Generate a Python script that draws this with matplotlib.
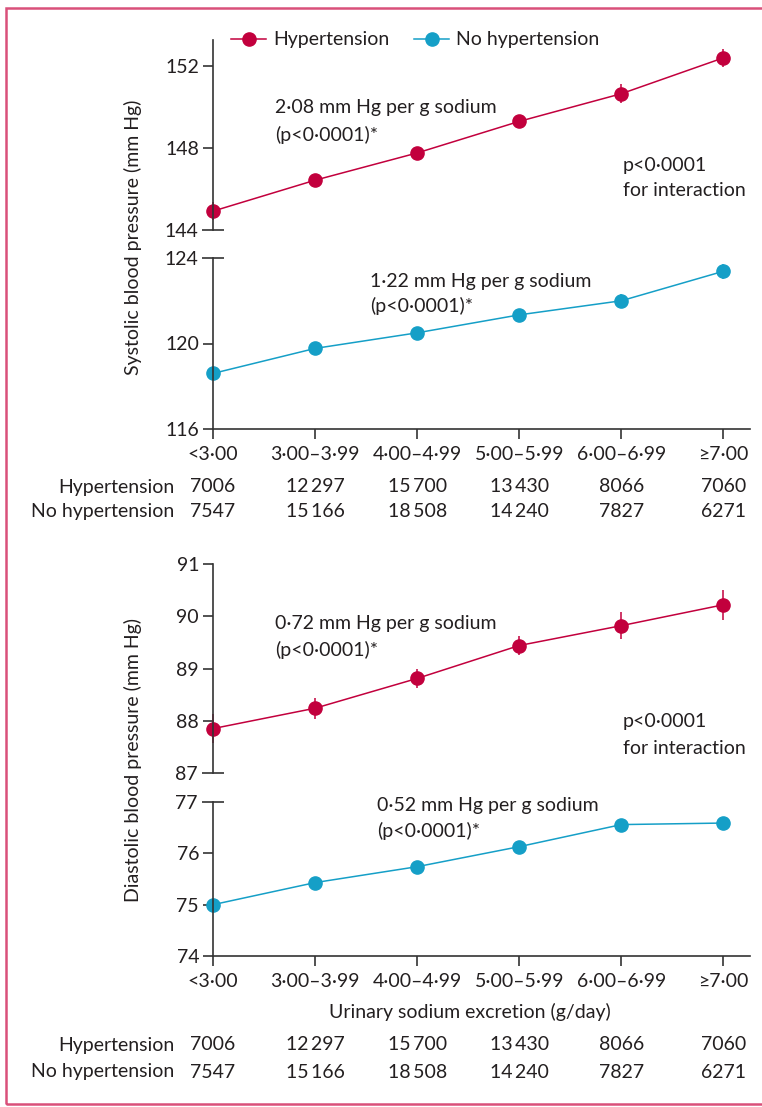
import matplotlib
matplotlib.use('Agg')
import matplotlib.pyplot as plt
from matplotlib.lines import Line2D
from matplotlib.patches import Rectangle
from matplotlib.transforms import blended_transform_factory

plt.rcParams['font.family'] = ['Lato', 'DejaVu Sans']

# categories of urinary sodium excretion (g/day)
categories = ['<3·00', '3·00–3·99', '4·00–4·99', '5·00–5·99', '6·00–6·99', '≥7·00']
n_hyp = [7006, 12297, 15700, 13430, 8066, 7060]
n_nohyp = [7547, 15166, 18508, 14240, 7827, 6271]

# systolic, mm Hg (mean and half-width of CI)
sbp_hyp = [144.92, 146.43, 147.76, 149.30, 150.65, 152.40]
sbp_hyp_err = [0.45, 0.30, 0.30, 0.30, 0.45, 0.45]
sbp_nohyp = [118.60, 119.77, 120.50, 121.34, 122.00, 123.38]
sbp_nohyp_err = [0.20, 0.20, 0.20, 0.20, 0.30, 0.35]

# diastolic, mm Hg
dbp_hyp = [87.85, 88.24, 88.81, 89.44, 89.82, 90.22]
dbp_hyp_err = [0.28, 0.20, 0.18, 0.19, 0.26, 0.29]
dbp_nohyp = [75.00, 75.43, 75.74, 76.13, 76.56, 76.59]
dbp_nohyp_err = [0.08, 0.08, 0.08, 0.08, 0.10, 0.10]

RED = '#c2003d'
BLUE = '#159fc7'
INK = '#231f20'
AX = '#333333'
FS = 14

W, H = 762, 1107
fig = plt.figure(figsize=(W / 100, H / 100), dpi=100)


def px_axes(left, top, right, bottom):
    return fig.add_axes([left / W, 1 - bottom / H, (right - left) / W, (bottom - top) / H])


def ftext(x, y, s, **kw):
    kw.setdefault('va', 'center')
    kw.setdefault('fontsize', FS)
    kw.setdefault('color', INK)
    return fig.text(x / W, 1 - y / H, s, **kw)


def style(ax, ylim, ticks, brk, upper):
    ax.set_xlim(0, 5.26)
    ax.set_ylim(*ylim)
    for s in ['top', 'right']:
        ax.spines[s].set_visible(False)
    for s in ['left', 'bottom']:
        ax.spines[s].set_color(AX)
        ax.spines[s].set_linewidth(1.2)
    ax.set_yticks(ticks)
    ax.set_yticks([brk], labels=[str(brk)], minor=True)
    ax.tick_params(axis='y', which='major', direction='out', length=7, width=1.2,
                   color=AX, labelsize=FS, labelcolor=INK, pad=3)
    ax.tick_params(axis='y', which='minor', direction='inout', length=16, width=1.2,
                   color=AX, labelsize=FS, labelcolor=INK, pad=3)
    if upper:
        ax.spines['bottom'].set_visible(False)
        ax.set_xticks([])
    else:
        ax.set_xticks(range(len(categories)), labels=categories)
        ax.tick_params(axis='x', direction='out', length=7, width=1.2, color=AX,
                       labelsize=FS, labelcolor=INK, pad=5)
    ax.patch.set_alpha(0)


def series(ax, y, err, color):
    cont = ax.errorbar(range(len(y)), y, yerr=err, color=color, marker='o', ms=9.5,
                       lw=1.1, elinewidth=1.1, capsize=0)
    for art in cont.get_children():
        art.set_clip_on(False)


def counts(ax, y_hyp, y_nohyp):
    tr = blended_transform_factory(ax.transData, fig.transFigure)
    for i in range(len(categories)):
        for n, yy in [(n_hyp[i], y_hyp), (n_nohyp[i], y_nohyp)]:
            s = str(n) if n < 10000 else f'{n // 1000}\u2009{n % 1000:03d}'
            ax.text(i, 1 - yy / H, s, transform=tr, ha='center', va='center',
                    fontsize=FS, color=INK)
    ftext(174, y_hyp, 'Hypertension', ha='right')
    ftext(174, y_nohyp, 'No hypertension', ha='right')


# systolic panel
ax_a = px_axes(213, 40, 750, 230)
style(ax_a, (144, 153.27), [148, 152], 144, True)
series(ax_a, sbp_hyp, sbp_hyp_err, RED)
ax_b = px_axes(213, 258, 750, 429)
style(ax_b, (116, 124), [116, 120], 124, False)
series(ax_b, sbp_nohyp, sbp_nohyp_err, BLUE)

# diastolic panel
ax_c = px_axes(213, 564, 750, 773)
style(ax_c, (87, 91), [88, 89, 90, 91], 87, True)
series(ax_c, dbp_hyp, dbp_hyp_err, RED)
ax_d = px_axes(213, 802, 750, 956)
style(ax_d, (74, 77), [74, 75, 76], 77, False)
series(ax_d, dbp_nohyp, dbp_nohyp_err, BLUE)

# legend
handles = [Line2D([], [], color=RED, marker='o', ms=9.5, lw=1.1),
           Line2D([], [], color=BLUE, marker='o', ms=9.5, lw=1.1)]
fig.legend(handles, ['Hypertension', 'No hypertension'], loc='center left',
           bbox_to_anchor=(231 / W, 1 - 40 / H), ncol=2, frameon=False, fontsize=FS,
           handlelength=1.8, handletextpad=0.35, columnspacing=1.3, borderpad=0,
           borderaxespad=0, labelcolor=INK)

# annotations
ftext(275, 108, '2·08 mm Hg per g sodium')
ftext(275, 135, '(p<0·0001)*')
ftext(623, 165, 'p<0·0001')
ftext(623, 190, 'for interaction')
ftext(370, 281, '1·22 mm Hg per g sodium')
ftext(370, 306, '(p<0·0001)*')
ftext(275, 624, '0·72 mm Hg per g sodium')
ftext(275, 650, '(p<0·0001)*')
ftext(623, 722, 'p<0·0001')
ftext(623, 748, 'for interaction')
ftext(377, 806, '0·52 mm Hg per g sodium')
ftext(377, 831, '(p<0·0001)*')

ftext(133, 237, 'Systolic blood pressure (mm Hg)', rotation=90, ha='center')
ftext(133, 760, 'Diastolic blood pressure (mm Hg)', rotation=90, ha='center')
ftext(470, 1012, 'Urinary sodium excretion (g/day)', ha='center')

counts(ax_b, 487, 512)
counts(ax_d, 1045, 1072)

# frame
fig.add_artist(Rectangle((6 / W, 1 - 1104 / H), 780 / W, 1096 / H, transform=fig.transFigure,
                         fill=False, ec='#d9507a', lw=1.8))

fig.savefig('out.png', dpi=100)
